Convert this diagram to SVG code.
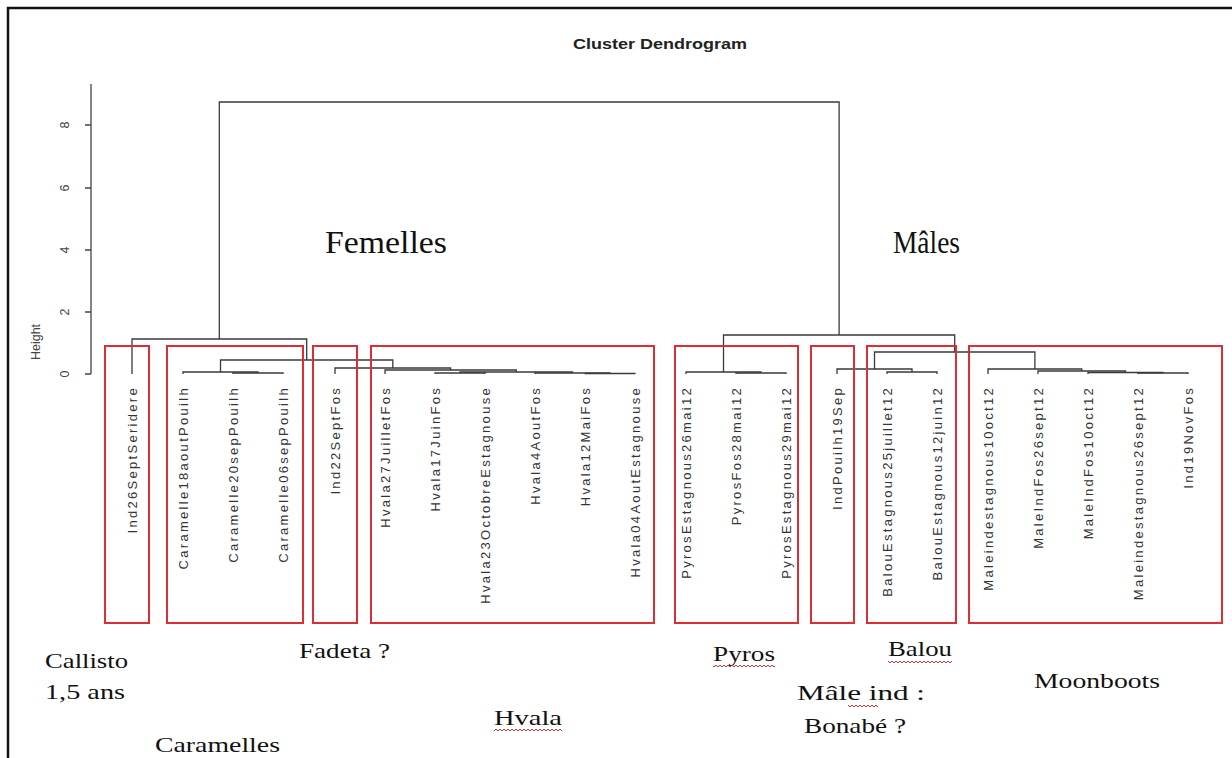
<svg xmlns="http://www.w3.org/2000/svg" width="1232" height="758" viewBox="0 0 1232 758">
<style>
.frame{stroke:#111;stroke-width:2.5;fill:none}
.axis{stroke:#444;stroke-width:1.3;fill:none}
.link{stroke:#3a3a3a;stroke-width:1.3;fill:none}
.box{stroke:#dd2e36;stroke-width:2;fill:none}
.leaf{font-family:"Liberation Sans",Arial,sans-serif;font-size:13px;letter-spacing:2.3px;fill:#333;text-anchor:end}
.tick{font-family:"Liberation Sans",Arial,sans-serif;font-size:12.5px;fill:#444;text-anchor:middle}
.title{font-family:"Liberation Sans",Arial,sans-serif;font-size:15px;font-weight:bold;fill:#222}
.big{font-family:"Liberation Serif","Times New Roman",serif;font-size:31px;fill:#111}
.note{font-family:"Liberation Serif","Times New Roman",serif;font-size:22px;fill:#111}
</style>
<defs>
<pattern id="wavy" x="0" y="0" width="4" height="4" patternUnits="userSpaceOnUse">
<path d="M0 1 L2 3 L4 1" stroke="#d02020" stroke-width="0.9" fill="none"/>
</pattern>
</defs>
<rect width="1232" height="758" fill="#fff"/>
<path class="frame" d="M8 758 V8 H1232"/>

<g id="title"><text class="title" x="573" y="49" textLength="174" lengthAdjust="spacingAndGlyphs">Cluster Dendrogram</text></g>

<g id="axis">
<path class="axis" d="M91 84 V374 M85 125 H91 M85 188 H91 M85 250 H91 M85 312 H91 M85 374 H91"/>
<text class="tick" transform="translate(69 125) rotate(-90)">8</text>
<text class="tick" transform="translate(69 188) rotate(-90)">6</text>
<text class="tick" transform="translate(69 250) rotate(-90)">4</text>
<text class="tick" transform="translate(69 312) rotate(-90)">2</text>
<text class="tick" transform="translate(69 374) rotate(-90)">0</text>
<text class="tick" transform="translate(40 342) rotate(-90)">Height</text>
</g>

<g id="connectors">
<path class="link" d="M233 374 V373 H283 V374"/>
<path class="link" d="M183 374 V372 H258 V373"/>
<path class="link" d="M435 374 V373 H485 V374"/>
<path class="link" d="M585 374 V373.5 H635 V374"/>
<path class="link" d="M535 374 V373 H610 V373.5"/>
<path class="link" d="M460 373 V372 H572.5 V373"/>
<path class="link" d="M385 374 V370 H516.3 V372"/>
<path class="link" d="M335 374 V368 H450.6 V370"/>
<path class="link" d="M220.5 372 V360 H392.8 V368"/>
<path class="link" d="M132 374 V339 H306.7 V360"/>
<path class="link" d="M219.3 339 V102 H839.1 V335"/>
<path class="link" d="M736 374 V373 H786 V374"/>
<path class="link" d="M686 374 V372 H761 V373"/>
<path class="link" d="M887 374 V372 H937 V374"/>
<path class="link" d="M837 374 V369 H912 V372"/>
<path class="link" d="M1138 374 V373 H1188 V374"/>
<path class="link" d="M1088 374 V372.5 H1163 V373"/>
<path class="link" d="M1038 374 V371 H1125.5 V372.5"/>
<path class="link" d="M988 374 V369 H1081.8 V371"/>
<path class="link" d="M874.5 369 V352 H1034.9 V369"/>
<path class="link" d="M723.5 372 V335 H954.7 V352"/>
</g>

<g id="leaves">
<text class="leaf" transform="translate(136.5 386) rotate(-90)">Ind26SeptSeridere</text>
<text class="leaf" transform="translate(187.5 386) rotate(-90)">Caramelle18aoutPouilh</text>
<text class="leaf" transform="translate(237.5 386) rotate(-90)">Caramelle20sepPouilh</text>
<text class="leaf" transform="translate(287.5 386) rotate(-90)">Caramelle06sepPouilh</text>
<text class="leaf" transform="translate(339.5 386) rotate(-90)">Ind22SeptFos</text>
<text class="leaf" transform="translate(389.5 386) rotate(-90)">Hvala27JuilletFos</text>
<text class="leaf" transform="translate(439.5 386) rotate(-90)">Hvala17JuinFos</text>
<text class="leaf" transform="translate(489.5 386) rotate(-90)">Hvala23OctobreEstagnouse</text>
<text class="leaf" transform="translate(539.5 386) rotate(-90)">Hvala4AoutFos</text>
<text class="leaf" transform="translate(589.5 386) rotate(-90)">Hvala12MaiFos</text>
<text class="leaf" transform="translate(639.5 386) rotate(-90)">Hvala04AoutEstagnouse</text>
<text class="leaf" transform="translate(690.5 386) rotate(-90)">PyrosEstagnous26mai12</text>
<text class="leaf" transform="translate(740.5 386) rotate(-90)">PyrosFos28mai12</text>
<text class="leaf" transform="translate(790.5 386) rotate(-90)">PyrosEstagnous29mai12</text>
<text class="leaf" transform="translate(841.5 386) rotate(-90)">IndPouilh19Sep</text>
<text class="leaf" transform="translate(891.5 386) rotate(-90)">BalouEstagnous25juillet12</text>
<text class="leaf" transform="translate(941.5 386) rotate(-90)">BalouEstagnous12juin12</text>
<text class="leaf" transform="translate(992.5 386) rotate(-90)">Maleindestagnous10oct12</text>
<text class="leaf" transform="translate(1042.5 386) rotate(-90)">MaleIndFos26sept12</text>
<text class="leaf" transform="translate(1092.5 386) rotate(-90)">MaleIndFos10oct12</text>
<text class="leaf" transform="translate(1142.5 386) rotate(-90)">Maleindestagnous26sept12</text>
<text class="leaf" transform="translate(1192.5 386) rotate(-90)">Ind19NovFos</text>
</g>

<g id="box-callisto"><rect class="box" x="105" y="346" width="44" height="277"/></g>
<g id="box-caramelles"><rect class="box" x="167" y="346" width="136" height="277"/></g>
<g id="box-fadeta"><rect class="box" x="313" y="346" width="44" height="277"/></g>
<g id="box-hvala"><rect class="box" x="371" y="346" width="283" height="277"/></g>
<g id="box-pyros"><rect class="box" x="675" y="346" width="123" height="277"/></g>
<g id="box-maleind"><rect class="box" x="811" y="346" width="43" height="277"/></g>
<g id="box-balou"><rect class="box" x="867" y="346" width="89" height="277"/></g>
<g id="box-moonboots"><rect class="box" x="969" y="346" width="253" height="277"/></g>

<g id="label-femelles"><text class="big" x="325" y="253" textLength="122" lengthAdjust="spacingAndGlyphs">Femelles</text></g>
<g id="label-males"><text class="big" x="893" y="253" textLength="67" lengthAdjust="spacingAndGlyphs">Mâles</text></g>

<g id="label-callisto">
<text class="note" x="45" y="668" textLength="83" lengthAdjust="spacingAndGlyphs">Callisto</text>
<text class="note" x="45" y="699" textLength="80" lengthAdjust="spacingAndGlyphs">1,5 ans</text>
</g>
<g id="label-caramelles"><text class="note" x="155" y="752" textLength="125" lengthAdjust="spacingAndGlyphs">Caramelles</text></g>
<g id="label-fadeta"><text class="note" x="299" y="658" textLength="91" lengthAdjust="spacingAndGlyphs">Fadeta ?</text></g>
<g id="label-hvala">
<text class="note" x="494" y="725" textLength="68" lengthAdjust="spacingAndGlyphs">Hvala</text>
<rect x="494" y="728" width="68" height="4" fill="url(#wavy)"/>
</g>
<g id="label-pyros">
<text class="note" x="713" y="661" textLength="62" lengthAdjust="spacingAndGlyphs">Pyros</text>
<rect x="713" y="664" width="62" height="4" fill="url(#wavy)"/>
</g>
<g id="label-balou">
<text class="note" x="888" y="656" textLength="64" lengthAdjust="spacingAndGlyphs">Balou</text>
<rect x="888" y="660" width="64" height="4" fill="url(#wavy)"/>
</g>
<g id="label-maleind">
<text class="note" x="797" y="700" textLength="128" lengthAdjust="spacingAndGlyphs">Mâle ind :</text>
<rect x="848" y="704" width="30" height="4" fill="url(#wavy)"/>
<text class="note" x="804" y="733" textLength="102" lengthAdjust="spacingAndGlyphs">Bonabé ?</text>
</g>
<g id="label-moonboots"><text class="note" x="1034" y="688" textLength="126" lengthAdjust="spacingAndGlyphs">Moonboots</text></g>
</svg>
